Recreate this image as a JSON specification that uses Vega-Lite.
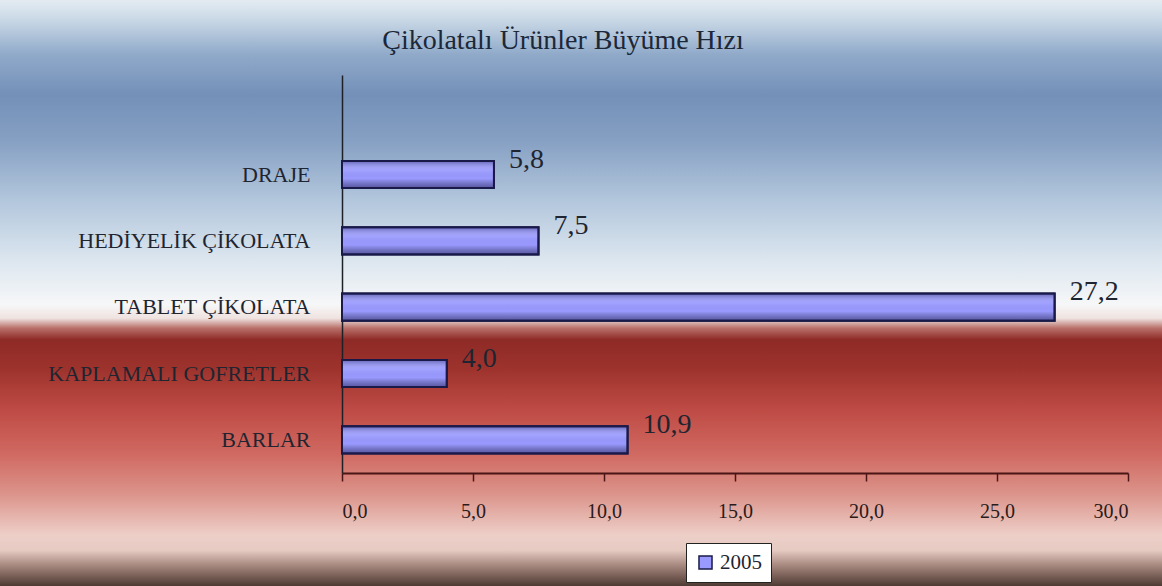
{
  "$schema": "https://vega.github.io/schema/vega-lite/v6.json",
  "width": 1162,
  "height": 586,
  "autosize": {"type": "none"},
  "padding": 0,
  "background": "#ffffff",
  "title": {
    "text": "Çikolatalı Ürünler Büyüme Hızı",
    "font": "Liberation Serif",
    "fontSize": 28,
    "fontWeight": "normal",
    "color": "#1c2838",
    "anchor": "middle",
    "frame": "group",
    "dx": -18,
    "offset": -55
  },
  "data": {
    "values": [
      {"category": "DRAJE", "value": 5.8, "year": "2005"},
      {"category": "HEDİYELİK  ÇİKOLATA", "value": 7.5, "year": "2005"},
      {"category": "TABLET ÇİKOLATA", "value": 27.2, "year": "2005"},
      {"category": "KAPLAMALI GOFRETLER", "value": 4.0, "year": "2005"},
      {"category": "BARLAR", "value": 10.9, "year": "2005"}
    ]
  },
  "encoding": {
    "y": {
      "field": "category",
      "type": "nominal",
      "scale": {
        "domain": ["", "DRAJE", "HEDİYELİK  ÇİKOLATA", "TABLET ÇİKOLATA", "KAPLAMALI GOFRETLER", "BARLAR"],
        "range": [75, 473],
        "paddingInner": 0.59,
        "paddingOuter": 0.295
      },
      "axis": {
        "title": null,
        "orient": "left",
        "offset": -342,
        "ticks": false,
        "tickSize": 0,
        "labelPadding": 32,
        "labelLimit": 0,
        "labelFont": "Liberation Serif",
        "labelFontSize": 22,
        "labelColor": "#1f2530",
        "domainColor": "#1e2028",
        "domainWidth": 1.5,
        "grid": false
      }
    },
    "x": {
      "field": "value",
      "type": "quantitative",
      "scale": {"domain": [0, 30], "range": [342, 1128], "nice": false, "zero": true},
      "axis": {
        "title": null,
        "orient": "bottom",
        "offset": -113,
        "values": [0, 5, 10, 15, 20, 25, 30],
        "format": ".1f",
        "tickSize": 8,
        "tickColor": "#4a1515",
        "tickWidth": 1.5,
        "labelPadding": 20,
        "labelFont": "Liberation Serif",
        "labelFontSize": 20,
        "labelColor": "#2a1a1a",
        "domainColor": "#4a1515",
        "domainWidth": 2,
        "grid": false
      }
    }
  },
  "layer": [
    {
      "mark": {"type": "bar", "stroke": "#1a1a4a", "strokeWidth": 2},
      "encoding": {
        "fill": {
          "field": "year",
          "type": "nominal",
          "scale": {"range": ["#9999ff"]},
          "legend": {
            "title": null,
            "orient": "none",
            "legendX": 686,
            "legendY": 543,
            "fillColor": "#ffffff",
            "strokeColor": "#222222",
            "padding": 9,
            "symbolType": "square",
            "symbolSize": 170,
            "symbolStrokeColor": "#1a1a4a",
            "symbolStrokeWidth": 1.5,
            "labelFont": "Liberation Serif",
            "labelFontSize": 21,
            "labelColor": "#1f2530"
          }
        }
      }
    },
    {
      "mark": {
        "type": "bar",
        "stroke": "#1a1a4a",
        "strokeWidth": 2,
        "fill": {
          "gradient": "linear",
          "x1": 0, "y1": 0, "x2": 0, "y2": 1,
          "stops": [
            {"offset": 0, "color": "rgba(30,30,90,0.45)"},
            {"offset": 0.35, "color": "rgba(255,255,255,0.08)"},
            {"offset": 0.65, "color": "rgba(0,0,0,0)"},
            {"offset": 1, "color": "rgba(20,20,70,0.5)"}
          ]
        }
      }
    },
    {
      "mark": {
        "type": "text",
        "align": "left",
        "baseline": "middle",
        "dx": 15,
        "dy": -15,
        "font": "Liberation Serif",
        "fontSize": 28,
        "color": "#1f2530"
      },
      "encoding": {
        "text": {"field": "value", "type": "quantitative", "format": ".1f"}
      }
    }
  ],
  "config": {
    "locale": {
      "number": {"decimal": ",", "thousands": ".", "grouping": [3], "currency": ["", " TL"]}
    },
    "view": {
      "stroke": null,
      "fill": {
        "gradient": "linear",
        "x1": 0, "y1": 0, "x2": 0, "y2": 1,
        "stops": [
          {"offset": 0, "color": "#e4ecf2"},
          {"offset": 0.034, "color": "#c9d8e6"},
          {"offset": 0.094, "color": "#8fa9c9"},
          {"offset": 0.162, "color": "#7490b8"},
          {"offset": 0.239, "color": "#86a0c3"},
          {"offset": 0.341, "color": "#b2c6dc"},
          {"offset": 0.444, "color": "#dce6ef"},
          {"offset": 0.52, "color": "#f6f7f8"},
          {"offset": 0.543, "color": "#efe3e0"},
          {"offset": 0.56, "color": "#b9706a"},
          {"offset": 0.58, "color": "#8e2a26"},
          {"offset": 0.631, "color": "#9e332d"},
          {"offset": 0.7, "color": "#bf4b45"},
          {"offset": 0.776, "color": "#d06a62"},
          {"offset": 0.845, "color": "#dc958c"},
          {"offset": 0.913, "color": "#edcfc8"},
          {"offset": 0.939, "color": "#e6cbc3"},
          {"offset": 0.964, "color": "#a88a80"},
          {"offset": 1, "color": "#4e3a33"}
        ]
      }
    }
  }
}
